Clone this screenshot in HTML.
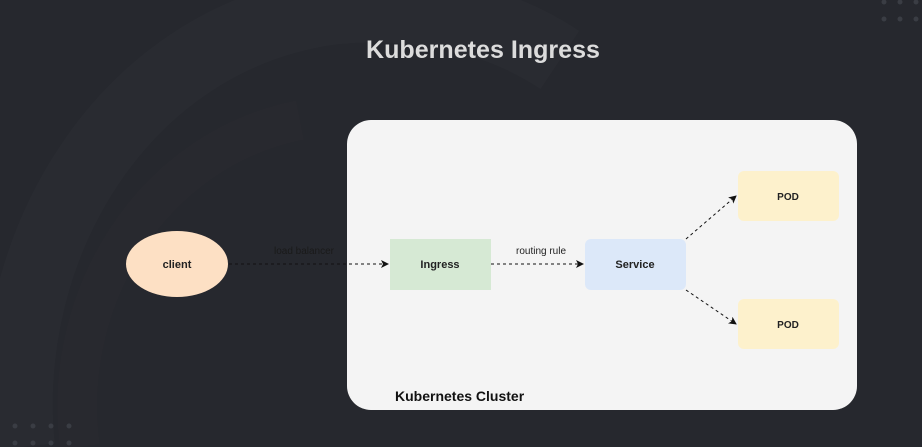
<!DOCTYPE html>
<html><head><style>
html,body{margin:0;padding:0;width:922px;height:447px;overflow:hidden;background:#26282e;}
svg{display:block}
text{font-family:"Liberation Sans",sans-serif}
</style></head><body>
<svg width="922" height="447" viewBox="0 0 922 447">
<defs>
<marker id="a" markerWidth="8" markerHeight="8" refX="7" refY="4" orient="auto" markerUnits="userSpaceOnUse">
<path d="M0,0 L8,4 L0,8 L2,4 Z" fill="#111"/>
</marker>
</defs>
<rect width="922" height="447" fill="#26282e"/>
<path d="M20,447 C0,250 120,40 330,10 C420,0 500,20 560,60" stroke="#292b31" stroke-width="70" fill="none"/>
<path d="M80,447 C60,300 150,150 300,120" stroke="#28292f" stroke-width="40" fill="none"/>
<g fill="#3a3d44">
<circle cx="884" cy="2" r="2.5"/><circle cx="900" cy="2" r="2.5"/><circle cx="916" cy="2" r="2.5"/>
<circle cx="884" cy="19" r="2.5"/><circle cx="900" cy="19" r="2.5"/><circle cx="916" cy="19" r="2.5"/>
<circle cx="15" cy="426" r="2.5"/><circle cx="33" cy="426" r="2.5"/><circle cx="51" cy="426" r="2.5"/><circle cx="69" cy="426" r="2.5"/>
<circle cx="15" cy="443" r="2.5"/><circle cx="33" cy="443" r="2.5"/><circle cx="51" cy="443" r="2.5"/><circle cx="69" cy="443" r="2.5"/>
</g>
<text x="483" y="58" text-anchor="middle" font-size="25" font-weight="bold" fill="#dcdcdc" textLength="234" lengthAdjust="spacingAndGlyphs">Kubernetes Ingress</text>
<rect x="347" y="120" width="510" height="290" rx="24" fill="#f4f4f4"/>
<ellipse cx="177" cy="264" rx="51" ry="33" fill="#fde0c4"/>
<text x="177" y="268" text-anchor="middle" font-size="11" font-weight="bold" fill="#222">client</text>
<rect x="390" y="239" width="101" height="51" fill="#d6e9d4"/>
<text x="440" y="268" text-anchor="middle" font-size="11" font-weight="bold" fill="#222">Ingress</text>
<rect x="585" y="239" width="101" height="51" rx="6" fill="#dce8f9"/>
<text x="635" y="268" text-anchor="middle" font-size="11" font-weight="bold" fill="#222">Service</text>
<rect x="738" y="171" width="101" height="50" rx="6" fill="#fdf1cc"/>
<text x="788" y="200" text-anchor="middle" font-size="10" font-weight="bold" fill="#222">POD</text>
<rect x="738" y="299" width="101" height="50" rx="6" fill="#fdf1cc"/>
<text x="788" y="328" text-anchor="middle" font-size="10" font-weight="bold" fill="#222">POD</text>
<g stroke="#111" stroke-width="1" stroke-dasharray="3,3" fill="none">
<line x1="229" y1="264" x2="388" y2="264" marker-end="url(#a)"/>
<line x1="491" y1="264" x2="583" y2="264" marker-end="url(#a)"/>
<line x1="686" y1="239" x2="736" y2="196" marker-end="url(#a)"/>
<line x1="686" y1="290" x2="736" y2="324" marker-end="url(#a)"/>
</g>
<text x="304" y="254" text-anchor="middle" font-size="10" fill="#1a1a1a">load balancer</text>
<text x="541" y="254" text-anchor="middle" font-size="10" fill="#222">routing rule</text>
<text x="395" y="401" font-size="14" font-weight="bold" fill="#111">Kubernetes Cluster</text>
</svg>
</body></html>
